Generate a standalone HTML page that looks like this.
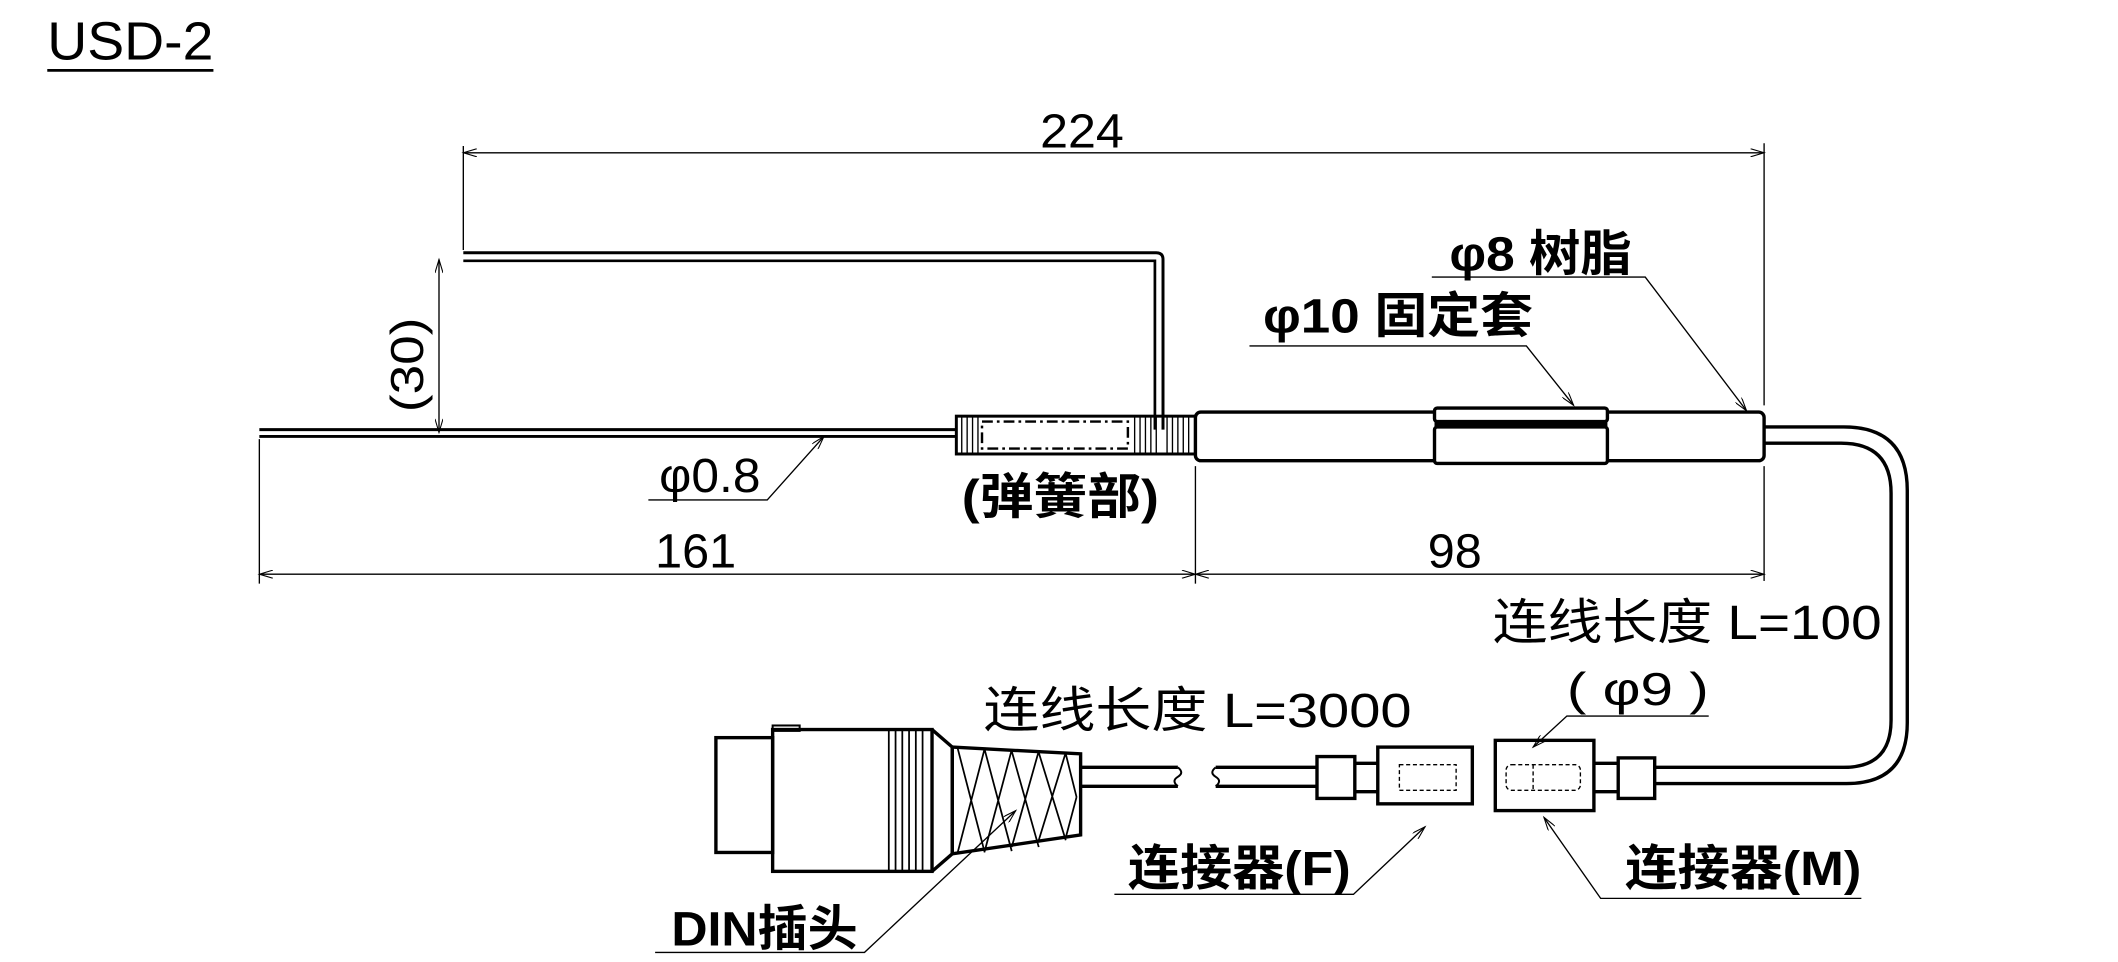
<!DOCTYPE html>
<html><head><meta charset="utf-8"><style>
html,body{margin:0;padding:0;background:#fff;}
svg{display:block}
text{font-family:"Liberation Sans","Noto Sans CJK SC",sans-serif;fill:#000}
</style></head><body>
<svg width="2118" height="962" viewBox="0 0 1568 712" xmlns="http://www.w3.org/2000/svg">
<defs>
<marker id="a" viewBox="0 0 10 6" refX="10" refY="3" markerWidth="14" markerHeight="6" orient="auto-start-reverse" markerUnits="userSpaceOnUse"><path d="M0,0 L10,3 L0,6" fill="none" stroke="#000" stroke-width="0.8"/></marker>
</defs>
<g stroke="#000" fill="none">
<line x1="35" y1="52" x2="158" y2="52" stroke-width="2"/>
<line x1="343" y1="113" x2="1306" y2="113" stroke-width="1" marker-start="url(#a)" marker-end="url(#a)"/>
<line x1="343" y1="108" x2="343" y2="185" stroke-width="1"/>
<line x1="1306" y1="106" x2="1306" y2="300" stroke-width="1"/>
<line x1="1306" y1="345" x2="1306" y2="430" stroke-width="1"/>
<path d="M343,187 H856 Q861,187 861,192 V318" stroke-width="2.2"/>
<path d="M343,193 H855 V318" stroke-width="2"/>
<line x1="325" y1="192" x2="325" y2="320" stroke-width="1" marker-start="url(#a)" marker-end="url(#a)"/>
<line x1="192" y1="318" x2="708" y2="318" stroke-width="2.2"/>
<line x1="192" y1="323" x2="708" y2="323" stroke-width="2.2"/>
<rect x="708" y="308" width="177" height="28" stroke-width="2.2"/>
<rect x="727" y="312" width="108" height="20" stroke-width="1.8" stroke-dasharray="8,3,2,3"/>
<g stroke-width="1">
<line x1="712" y1="308" x2="712" y2="336"/><line x1="716" y1="308" x2="716" y2="336"/><line x1="720" y1="308" x2="720" y2="336"/><line x1="724" y1="308" x2="724" y2="336"/>
<line x1="840" y1="308" x2="840" y2="336"/><line x1="844" y1="308" x2="844" y2="336"/><line x1="848" y1="308" x2="848" y2="336"/><line x1="852" y1="308" x2="852" y2="336"/><line x1="856" y1="308" x2="856" y2="336"/><line x1="864" y1="308" x2="864" y2="336"/><line x1="868" y1="308" x2="868" y2="336"/><line x1="872" y1="308" x2="872" y2="336"/><line x1="876" y1="308" x2="876" y2="336"/><line x1="880" y1="308" x2="880" y2="336"/>
</g>
<rect x="885" y="305" width="421" height="36" rx="4" stroke-width="2.5"/>
<rect x="1062" y="302" width="128" height="10" rx="2" stroke-width="2.5" fill="#fff"/>
<rect x="1062" y="316" width="128" height="27" rx="2" stroke-width="2.5" fill="#fff"/>
<line x1="1062" y1="314" x2="1190" y2="314" stroke-width="3"/>
<path d="M1306,316 H1365 Q1412,316 1412,363 V535 Q1412,580 1367,580 H1225" stroke-width="2.5"/>
<path d="M1306,328 H1363 Q1400,328 1400,365 V533 Q1400,568 1365,568 H1225" stroke-width="2.5"/>
<line x1="192" y1="325" x2="192" y2="432" stroke-width="1"/>
<line x1="885" y1="345" x2="885" y2="432" stroke-width="1"/>
<line x1="192" y1="425" x2="885" y2="425" stroke-width="1" marker-start="url(#a)" marker-end="url(#a)"/>
<line x1="885" y1="425" x2="1306" y2="425" stroke-width="1" marker-start="url(#a)" marker-end="url(#a)"/>
<polyline points="480,370 568,370 610,323" stroke-width="1" marker-end="url(#a)"/>
<polyline points="925,256 1130,256 1165,300" stroke-width="1" marker-end="url(#a)"/>
<polyline points="1060,205 1218,205 1293,304" stroke-width="1" marker-end="url(#a)"/>
<polyline points="1265,530 1160,530 1135,553" stroke-width="1" marker-end="url(#a)"/>
<polyline points="825,662 1002,662 1055,612" stroke-width="1" marker-end="url(#a)"/>
<polyline points="1378,665 1185,665 1143,605" stroke-width="1" marker-end="url(#a)"/>
<polyline points="485,705 640,705 752,600" stroke-width="1" marker-end="url(#a)"/>
<rect x="530" y="546" width="42" height="85" stroke-width="2.5"/>
<rect x="572" y="540" width="118" height="105" stroke-width="2.5"/>
<rect x="572" y="537" width="20" height="4" stroke-width="1.5"/>
<g stroke-width="1.3">
<line x1="658" y1="540" x2="658" y2="645"/><line x1="663" y1="540" x2="663" y2="645"/><line x1="668" y1="540" x2="668" y2="645"/><line x1="673" y1="540" x2="673" y2="645"/><line x1="678" y1="540" x2="678" y2="645"/><line x1="683" y1="540" x2="683" y2="645"/>
</g>
<path d="M690,540 L705,553 V632 L690,645" stroke-width="2.5"/>
<path d="M705,553 L800,558 V618 L705,632 Z" stroke-width="2.5"/>
<path d="M709,554 L729,631 M729,554 L709,631 M729,555 L749,630 M749,555 L729,630 M749,556 L769,627 M769,556 L749,627 M769,557 L789,622 M789,557 L769,622 M789,558 L797,590 M797,590 L789,620" stroke-width="1.3"/>
<path d="M800,568 H872 M800,582 H872" stroke-width="2.5"/>
<path d="M872,568 q5,4 0,7 q-5,3 0,7 M900,568 q-5,4 0,7 q5,3 0,7" stroke-width="1.5"/>
<path d="M900,568 H975 M900,582 H975" stroke-width="2.5"/>
<rect x="975" y="560" width="28" height="31" stroke-width="2.5"/>
<path d="M1003,565 H1020 M1003,586 H1020" stroke-width="2.5"/>
<rect x="1020" y="553" width="70" height="42" stroke-width="2.5"/>
<rect x="1036" y="566" width="42" height="19" stroke-width="1" stroke-dasharray="3,2"/>
<rect x="1107" y="548" width="73" height="52" stroke-width="2.5"/>
<rect x="1115" y="566" width="55" height="19" rx="4" stroke-width="1" stroke-dasharray="3,2"/>
<line x1="1135" y1="566" x2="1135" y2="585" stroke-width="1" stroke-dasharray="3,2"/>
<path d="M1180,565 H1198 M1180,586 H1198" stroke-width="2.5"/>
<rect x="1198" y="561" width="27" height="30" stroke-width="2.5"/>
</g>
<text x="35" y="44" font-size="40" textLength="123" lengthAdjust="spacingAndGlyphs">USD-2</text>
<text x="770" y="109" font-size="36" textLength="62" lengthAdjust="spacingAndGlyphs">224</text>
<text x="313" y="270" font-size="34" text-anchor="middle" textLength="70" lengthAdjust="spacingAndGlyphs" transform="rotate(-90 313 270)">(30)</text>
<text x="488" y="364" font-size="36" textLength="75" lengthAdjust="spacingAndGlyphs">φ0.8</text>
<text x="712" y="380" font-size="36" font-weight="bold" textLength="146" lengthAdjust="spacingAndGlyphs">(弹簧部)</text>
<text x="485" y="420" font-size="36" textLength="60" lengthAdjust="spacingAndGlyphs">161</text>
<text x="1057" y="420" font-size="36" textLength="40" lengthAdjust="spacingAndGlyphs">98</text>
<text x="1073" y="200" font-size="36" font-weight="bold" textLength="135" lengthAdjust="spacingAndGlyphs">φ8 树脂</text>
<text x="935" y="246" font-size="36" font-weight="bold" textLength="200" lengthAdjust="spacingAndGlyphs">φ10 固定套</text>
<text x="1105" y="473" font-size="36" textLength="288" lengthAdjust="spacingAndGlyphs">连线长度 L=100</text>
<text x="1160" y="522" font-size="34" textLength="105" lengthAdjust="spacingAndGlyphs">( φ9 )</text>
<text x="728" y="538" font-size="36" textLength="317" lengthAdjust="spacingAndGlyphs">连线长度 L=3000</text>
<text x="835" y="655" font-size="36" font-weight="bold" textLength="165" lengthAdjust="spacingAndGlyphs">连接器(F)</text>
<text x="1203" y="655" font-size="36" font-weight="bold" textLength="175" lengthAdjust="spacingAndGlyphs">连接器(M)</text>
<text x="497" y="700" font-size="36" font-weight="bold" textLength="138" lengthAdjust="spacingAndGlyphs">DIN插头</text>
</svg>
</body></html>
